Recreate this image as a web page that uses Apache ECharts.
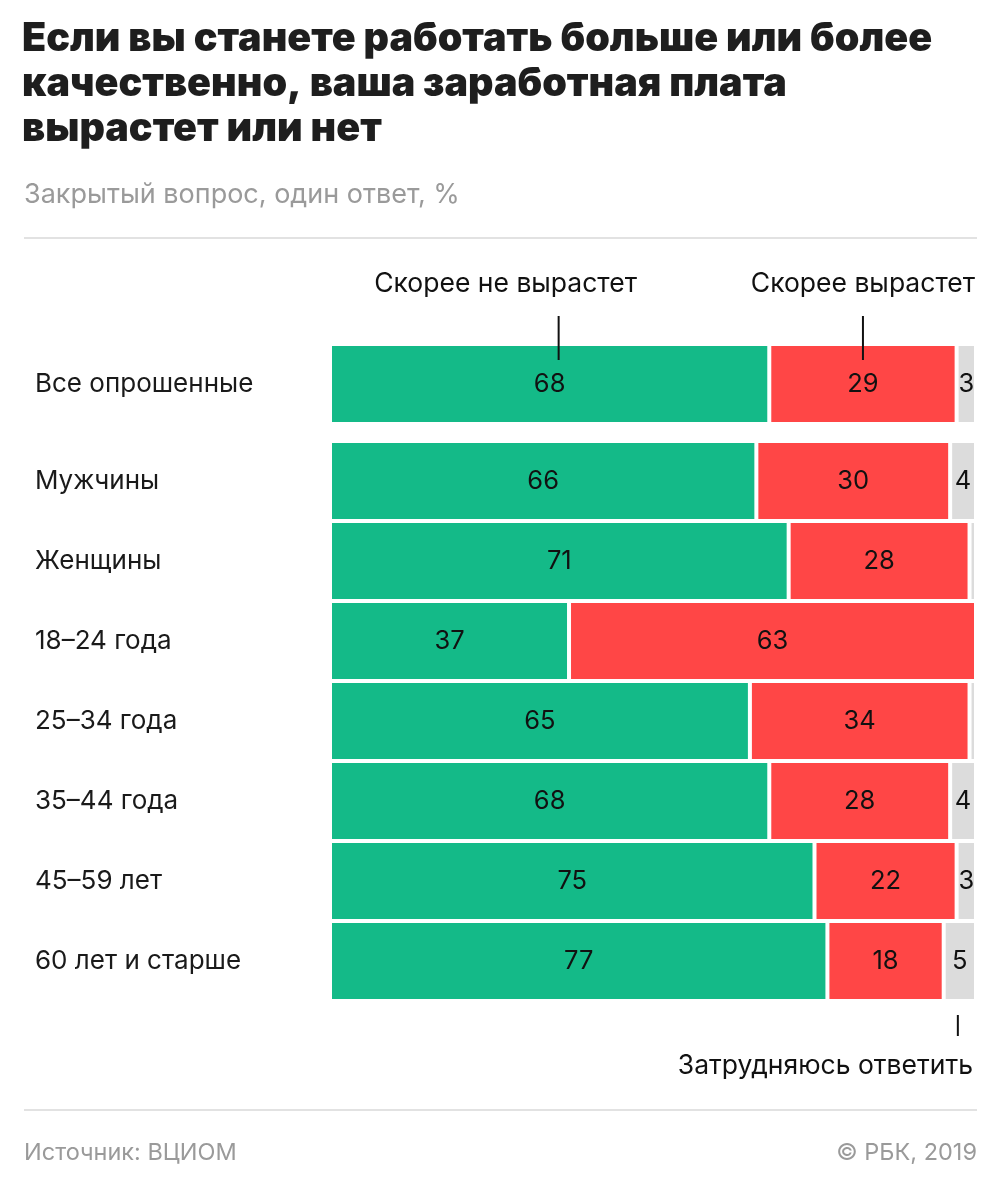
<!DOCTYPE html>
<html><head><meta charset="utf-8">
<script src="https://cdn.jsdelivr.net/npm/echarts@6/dist/echarts.min.js"></script>
<style>html,body{margin:0;padding:0;background:#fff}#c{width:1005px;height:1192px}</style>
</head><body><div id="c"></div><script>
const categories = ['Все опрошенные','Мужчины','Женщины','18–24 года','25–34 года','35–44 года','45–59 лет','60 лет и старше'];
const notGrow = [68, 66, 71, 37, 65, 68, 75, 77];
const grow = [29, 30, 28, 63, 34, 28, 22, 18];
const hard = [3, 4, 1, 0, 1, 4, 3, 5];
const seriesNames = ['Скорее не вырастет','Скорее вырастет','Затрудняюсь ответить'];
const titleLines = ['Если вы станете работать больше или более','качественно, ваша заработная плата','вырастет или нет'];
const subtitle = 'Закрытый вопрос, один ответ, %';
const source = 'Источник: ВЦИОМ';
const copyright = '© РБК, 2019';
const colors = ['#14BA88','#FF4646','#DCDCDC'];
const FONT = 'Inter';

const chart = echarts.init(document.getElementById('c'), null, {renderer:'canvas'});
const dataSets = [notGrow, grow, hard];
function mkSeries(gi, from, to){
  return dataSets.map((d,k)=>({
    type:'bar', name: seriesNames[k], stack:'s'+gi, xAxisIndex: gi, yAxisIndex: gi,
    barCategoryGap: '0%',
    data: d.slice(from,to),
    itemStyle:{color: colors[k], borderColor:'#fff', borderWidth:2},
    label:{show:true, position:'inside', fontFamily:FONT, fontSize:25.5, color:'#111',
      formatter: p => p.value >= 2 ? String(p.value) : ''},
    emphasis:{disabled:true}, silent:true, animation:false
  }));
}
function yAxis(gi, data, padBottom){
  return {gridIndex:gi, data:data, type:'category', inverse:true, axisLine:{show:false}, axisTick:{show:false},
    axisLabel:{align:'left', margin:295, fontFamily:FONT, fontSize:26, color:'#1a1a1a', padding:[0,0,padBottom,0]}};
}
const xAxisCommon = {type:'value', min:0, max:100, show:false};

chart.setOption({
  animation:false,
  grid:[
    {left:330, right:29, top:344, height:80},
    {left:330, right:29, top:441, height:560}
  ],
  xAxis:[Object.assign({gridIndex:0}, xAxisCommon), Object.assign({gridIndex:1}, xAxisCommon)],
  yAxis:[yAxis(0, categories.slice(0,1), 16), yAxis(1, categories.slice(1), 2)],
  series:[...mkSeries(0,0,1), ...mkSeries(1,1,8)]
});

// annotations anchored to data
const last = categories.length-1;
const pNot = chart.convertToPixel({gridIndex:0}, [notGrow[0]/2, categories[0]]);
const pGrow = chart.convertToPixel({gridIndex:0}, [notGrow[0]+grow[0]/2, categories[0]]);
const pHard = chart.convertToPixel({gridIndex:1}, [notGrow[last]+grow[last]+hard[last]/2, categories[last]]);
const annStyle = {fontFamily:FONT, fontSize:26.5, fill:'#111', verticalAlign:'middle'};
const grayStyle = {fontFamily:FONT, fontSize:23.5, fill:'#9a9a9a', verticalAlign:'middle'};
const titleStyle = {fontFamily:FONT, fontSize:39.5, fontWeight:900, fill:'#1e1e1e', verticalAlign:'middle'};
const g = [];
titleLines.forEach((t,i)=>g.push({type:'text', x:22, y:39+45*i, style:Object.assign({text:t}, titleStyle)}));
g.push(
  {type:'text', x:24, y:195, style:Object.assign({}, grayStyle, {text:subtitle, fontSize:27})},
  {type:'rect', shape:{x:24, y:237, width:953, height:2}, style:{fill:'#e2e2e2'}},
  {type:'rect', shape:{x:24, y:1109, width:953, height:2}, style:{fill:'#e2e2e2'}},
  {type:'text', x:24, y:1153, style:Object.assign({text:source}, grayStyle)},
  {type:'text', x:977, y:1153, style:Object.assign({text:copyright, align:'right'}, grayStyle)},
  {type:'text', x:pNot[0]-44, y:284, style:Object.assign({text:seriesNames[0], align:'center'}, annStyle)},
  {type:'line', shape:{x1:pNot[0]+9, y1:316, x2:pNot[0]+9, y2:360}, style:{stroke:'#111', lineWidth:2}, z:100},
  {type:'text', x:pGrow[0], y:284, style:Object.assign({text:seriesNames[1], align:'center'}, annStyle)},
  {type:'line', shape:{x1:pGrow[0], y1:316, x2:pGrow[0], y2:360}, style:{stroke:'#111', lineWidth:2}, z:100},
  {type:'line', shape:{x1:pHard[0]-2, y1:1015, x2:pHard[0]-2, y2:1036}, style:{stroke:'#111', lineWidth:2}, z:100},
  {type:'text', x:973, y:1066, style:Object.assign({text:seriesNames[2], align:'right'}, annStyle)}
);
chart.setOption({graphic:g});
</script></body></html>
